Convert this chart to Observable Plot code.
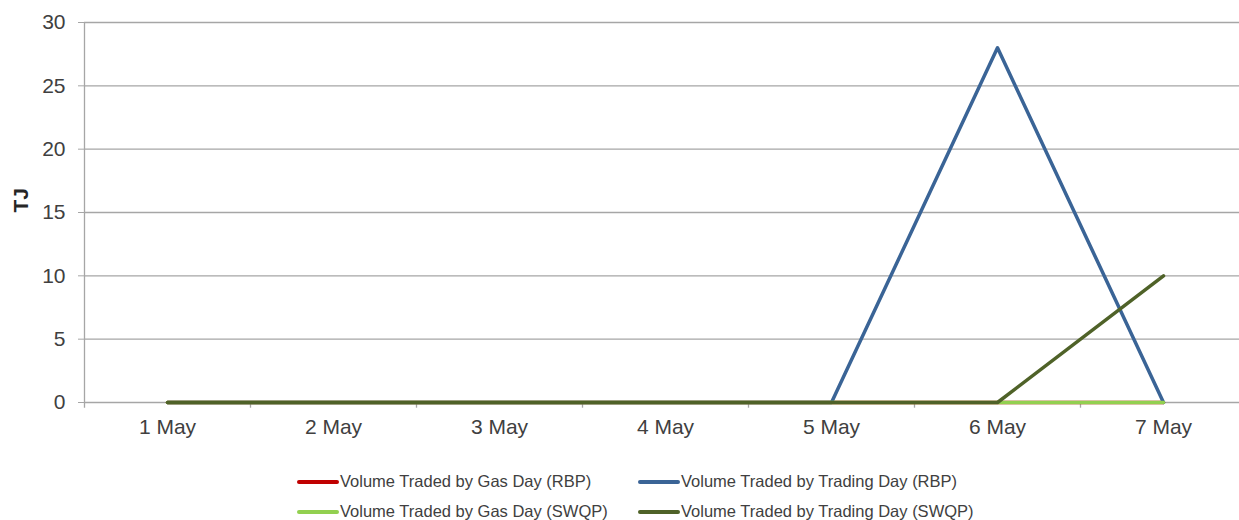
<!DOCTYPE html>
<html>
<head>
<meta charset="utf-8">
<script src="https://cdn.jsdelivr.net/npm/d3@7"></script>
<script src="https://cdn.jsdelivr.net/npm/@observablehq/plot@0.6"></script>
<style>
  body { margin: 0; background: #fff; font-family: "Liberation Sans", Arial, sans-serif; }
  #wrap { position: relative; width: 1239px; height: 520px; overflow: hidden; }
  #legend { position: absolute; left: 0; top: 0; width: 1239px; height: 520px; pointer-events: none; }
  .item { position: absolute; display: flex; align-items: center; font-size: 16.5px; color: #404040; white-space: nowrap; }
  .swatch { width: 42px; height: 4px; margin-right: 1px; border-radius: 2px; }
</style>
</head>
<body>
<div id="wrap"><div id="chart"></div><div id="legend"></div></div>
<script>
const days = ["1 May", "2 May", "3 May", "4 May", "5 May", "6 May", "7 May"];
const gasDayRBP = [0, 0, 0, 0, 0, 0, 0];
const tradingDayRBP = [0, 0, 0, 0, 0, 28, 0];
const gasDaySWQP = [0, 0, 0, 0, 0, 0, 0];
const tradingDaySWQP = [0, 0, 0, 0, 0, 0, 10];
const seriesNames = [
  "Volume Traded by Gas Day (RBP)",
  "Volume Traded by Trading Day (RBP)",
  "Volume Traded by Gas Day (SWQP)",
  "Volume Traded by Trading Day (SWQP)"
];
const seriesColors = ["#C00000", "#3A6496", "#92D050", "#4F6228"];
const yTicks = [0, 5, 10, 15, 20, 25, 30];

const seriesValues = [gasDayRBP, tradingDayRBP, gasDaySWQP, tradingDaySWQP];
const data = seriesNames.flatMap((name, s) =>
  days.map((day, i) => ({ series: name, day, value: seriesValues[s][i] })));

const band = 166;
const chart = Plot.plot({
  width: 1239,
  height: 450,
  marginTop: 22,
  marginBottom: 48,
  marginLeft: 84,
  marginRight: 0,
  style: { fontFamily: "Liberation Sans, Arial, sans-serif", color: "#404040", background: "#fff" },
  x: { type: "point", domain: days, range: [167, 1163], padding: 0 },
  y: { domain: [0, 30], ticks: yTicks },
  color: { domain: seriesNames, range: seriesColors },
  marks: [
    Plot.ruleY(yTicks, { y: d => d, stroke: "#a6a6a6", strokeWidth: 1.3 }),
    Plot.axisY({ ticks: yTicks, tickSize: 6, tickPadding: 13, fontSize: 21, stroke: "#a6a6a6", label: null }),
    Plot.ruleX([days[0]], { x: d => d, dx: -band / 2, y1: -0.45, y2: 30, stroke: "#a6a6a6", strokeWidth: 1.3 }),
    Plot.ruleX(days, { x: d => d, dx: band / 2, y1: -0.45, y2: 0, stroke: "#a6a6a6", strokeWidth: 1.3 }),
    Plot.axisX({ tickSize: 0, tickPadding: 17, fontSize: 21, label: null }),
    Plot.text(["TJ"], { frameAnchor: "left", dx: -63, rotate: -90, fontSize: 21, fontWeight: "bold", fill: "#262626" }),
    Plot.line(data, { x: "day", y: "value", z: "series", stroke: "series", strokeWidth: 3.5, strokeLinejoin: "round" })
  ]
});
document.getElementById("chart").appendChild(chart);

const legend = document.getElementById("legend");
const positions = [[297, 482], [638, 482], [297, 512], [638, 512]];
seriesNames.forEach((name, i) => {
  const it = document.createElement("div");
  it.className = "item";
  it.style.left = positions[i][0] + "px";
  it.style.top = (positions[i][1] - 10) + "px";
  it.innerHTML = `<span class="swatch" style="background:${seriesColors[i]}"></span><span>${name}</span>`;
  legend.appendChild(it);
});
</script>
</body>
</html>
